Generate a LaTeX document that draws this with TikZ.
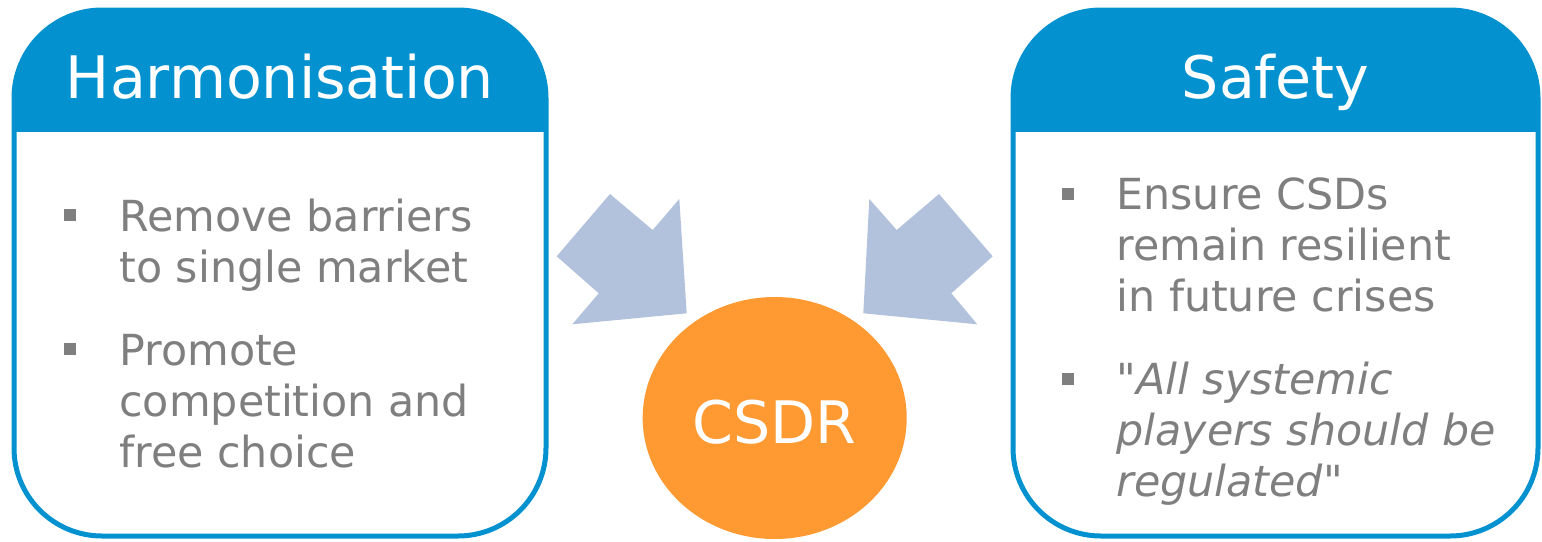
\documentclass[tikz,border=0pt]{standalone}
\usepackage{fontspec}
\setmainfont{DejaVu Sans}[Ligatures=TeXOff]
\usetikzlibrary{positioning,shapes.geometric}
\definecolor{hdrblue}{HTML}{0392CF}
\definecolor{arrblue}{HTML}{B3C2DC}
\definecolor{csdrorange}{HTML}{FF9A33}
\definecolor{txtgray}{HTML}{7F7F7F}

\begin{document}
\begin{tikzpicture}[
  x=0.5pt, y=-0.5pt,
  panel/.style={draw=hdrblue,fill=white,line width=2.5pt,rounded corners=44pt,outer sep=0pt,inner sep=0pt},
  title/.style={text=white,font=\fontsize{29.3}{35}\selectfont,anchor=base,inner sep=0pt},
  point/.style={text=txtgray,font=\fontsize{21.4}{25.5}\selectfont,align=left,anchor=base west,inner sep=0pt},
  bullet/.style={fill=txtgray,minimum size=6pt,inner sep=0pt},
  push/.style={fill=arrblue}
]
\useasboundingbox (0,0) rectangle (1542,541);

% Harmonisation panel
\node[panel,minimum width=266pt,minimum height=263pt] (harm) at (280,273) {};
\begin{scope}
  \clip[rounded corners=44pt] (harm.north west) rectangle (harm.south east);
  \fill[hdrblue] (harm.north west) rectangle (harm.east |- 0,132);
\end{scope}
\node[title] (harmt) at (harm.north |- 0,98) {Harmonisation};
\node[point] (h1) at (119,282) {Remove barriers\\to single market};
\node[point] (h2) at (119,467) {Promote\\competition and\\free choice};
\node[bullet] at ([xshift=-24.5pt,yshift=33.5pt]h1.base west) {};
\node[bullet] at ([xshift=-24.5pt,yshift=59pt]h2.base west) {};

% Safety panel
\node[panel,minimum width=262.5pt,minimum height=263pt] (safe) at (1275.5,273) {};
\begin{scope}
  \clip[rounded corners=44pt] (safe.north west) rectangle (safe.south east);
  \fill[hdrblue] (safe.north west) rectangle (safe.east |- 0,132);
\end{scope}
\node[title] (safet) at (safe.north |- 0,98) {Safety};
\node[point] (s1) at (1116,311) {Ensure CSDs\\remain resilient\\in future crises};
\node[point,font=\fontsize{21.4}{25.5}\selectfont\itshape] (s2) at (1116,496) {"All systemic\\players should be\\regulated"};
\node[bullet] at ([xshift=-24pt,yshift=58.75pt]s1.base west) {};
\node[bullet] at ([xshift=-24pt,yshift=58.75pt]s2.base west) {};

% arrows into CSDR
\fill[push] (610,194) -- (652.7,230) -- (679.3,199) -- (686.7,313.3) -- (572.3,324.3)
  -- (598.7,293.3) -- (556.7,256.3) -- cycle;
\fill[push] (939,194) -- (896.7,230) -- (869.3,199) -- (863.3,313.3) -- (977.3,324.3)
  -- (951.3,293.3) -- (992.7,256.3) -- cycle;

% CSDR
\node[ellipse,fill=csdrorange,minimum width=132pt,minimum height=121pt,inner sep=0pt] (csdr) at (774.7,418) {};
\node[title] at (csdr.center |- 0,443) {CSDR};
\end{tikzpicture}
\end{document}
